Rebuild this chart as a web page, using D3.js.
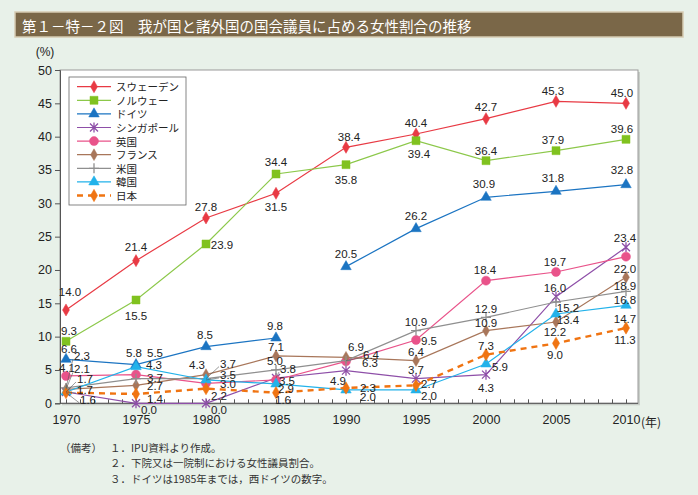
<!DOCTYPE html>
<html><head><meta charset="utf-8">
<script src="https://cdn.jsdelivr.net/npm/d3@7"></script>
<style>
body{margin:0;background:#e8f1e9;}
svg{display:block;}
</style></head><body>
<svg id="chart" width="698" height="495"></svg>
<script>
// ---------------- DATA ----------------
const years = [1970, 1975, 1980, 1985, 1990, 1995, 2000, 2005, 2010];
const seriesNames = ["スウェーデン", "ノルウェー", "ドイツ", "シンガポール", "英国", "フランス", "米国", "韓国", "日本"];
const sweden    = [14.0, 21.4, 27.8, 31.5, 38.4, 40.4, 42.7, 45.3, 45.0];
const norway    = [9.3, 15.5, 23.9, 34.4, 35.8, 39.4, 36.4, 37.9, 39.6];
const germany   = [6.6, 5.8, 8.5, 9.8, 20.5, 26.2, 30.9, 31.8, 32.8];
const singapore = [1.7, 0.0, 0.0, 3.8, 4.9, 3.7, 4.3, 16.0, 23.4];
const uk        = [4.1, 4.3, 3.0, 3.5, 6.3, 9.5, 18.4, 19.7, 22.0];
const france    = [2.1, 2.7, 4.3, 7.1, 6.9, 6.4, 10.9, 12.2, 18.9];
const us        = [2.3, 3.7, 3.7, 5.0, 6.4, 10.9, 12.9, 15.2, 16.8];
const korea     = [1.7, 5.5, 3.5, 2.9, 2.0, 2.0, 5.9, 13.4, 14.7];
const japan     = [1.6, 1.4, 2.2, 1.6, 2.3, 2.7, 7.3, 9.0, 11.3];
const seriesValues = [sweden, norway, germany, singapore, uk, france, us, korea, japan];
const germanyBreakAfter = 1985; // 西ドイツ until 1985
const yTickValues = [0, 5, 10, 15, 20, 25, 30, 35, 40, 45, 50];
const xLabelYears = [1970, 1975, 1980, 1985, 1990, 1995, 2000, 2005, 2010];
const titleText = "第１－特－２図　我が国と諸外国の国会議員に占める女性割合の推移";
const notes = ["１．IPU資料より作成。", "２．下院又は一院制における女性議員割合。", "３．ドイツは1985年までは，西ドイツの数字。"];

// ---------------- STYLE / LAYOUT ----------------
const styles = {
  "スウェーデン": {color: "#e83a44", marker: "diamond", size: 42},
  "ノルウェー":   {color: "#80c21f", line: "#8cc84a", marker: "square", size: 64},
  "ドイツ":       {color: "#1b74c2", marker: "triangle", size: 48},
  "シンガポール": {color: "#8e4fa8", marker: "star"},
  "英国":         {color: "#e9538a", marker: "circle", size: 64},
  "フランス":     {color: "#a8765a", marker: "diamond", size: 40},
  "米国":         {color: "#8f8f8f", marker: "plus"},
  "韓国":         {color: "#22b2ea", marker: "triangle", size: 48},
  "日本":         {color: "#f07412", marker: "diamond", size: 44, dash: "6,5", width: 2.4}
};
// label offsets [dx, dy, leader]
const labelOffsets = {
  "スウェーデン": [[4,-18],[0,-14],[0,-11],[0,14],[3,-10],[0,-11],[0,-12],[-3,-10],[-4,-10]],
  "ノルウェー":   [[3,-10],[0,16],[16,1],[0,-12],[0,15],[3,13],[0,-10],[-3,-11],[-4,-10]],
  "ドイツ":       [[3,-10],[-2,-12],[-1,-12],[-1,-12],[0,-13],[0,-13],[-2,-13],[-3,-13],[-4,-15]],
  "シンガポール": [[19,-2,1],[13,7],[13,7],[12,-9,1],[-8,10],[0,-9],[0,13],[-1,-9],[-1,-9]],
  "英国":         [[1,-8],[18,-10],[22,1],[11,1],[24,2],[13,1],[-1,-11],[-1,-10],[-1,12]],
  "フランス":     [[16,-20,1],[19,1],[-9,-10],[0,-9],[10,-10],[0,-9],[0,-8],[-1,10],[-1,9]],
  "米国":         [[16,-32,1],[19,-1],[22,-15,1],[-1,-9],[25,-6,1],[0,-9],[0,-8],[12,6],[-1,9]],
  "韓国":         [[19,-13,1],[19,-14],[22,-5,1],[10,5],[22,7],[13,6],[14,3],[12,6],[-1,14]],
  "日本":         [[22,7,1],[19,5],[13,7],[7,7],[22,0],[13,-1],[0,-9],[-1,12],[-1,12]]
};

const svg = d3.select("#chart");
const latin = "'Liberation Sans', Arial, sans-serif";
const cjk = "'Noto Sans CJK JP', 'Noto Sans', sans-serif";

// Title bar
svg.append("rect").attr("x", 15).attr("y", 12).attr("width", 668).attr("height", 25)
  .attr("fill", "#7a6748").attr("stroke", "#d6ccb3").attr("stroke-width", 1.5);
svg.append("text").attr("x", 22).attr("y", 25).attr("dominant-baseline", "central")
  .attr("fill", "#fff").style("font-family", cjk).style("font-size", "14.5px").text(titleText);

// Plot frame
const plot = {left: 60, right: 638, top: 70, bottom: 403.3};
svg.append("rect").attr("x", plot.left + 2).attr("y", plot.top + 2)
  .attr("width", plot.right - plot.left).attr("height", plot.bottom - plot.top)
  .attr("fill", "#c8cec8");
svg.append("rect").attr("x", plot.left).attr("y", plot.top)
  .attr("width", plot.right - plot.left).attr("height", plot.bottom - plot.top)
  .attr("fill", "#fff").attr("stroke", "#9a9a9a").attr("stroke-width", 1);

const x = d3.scaleLinear().domain([1970, 2010]).range([66, 626]);
const y = d3.scaleLinear().domain([0, 50]).range([plot.bottom, plot.top]);

// Y axis
const yAxis = svg.append("g").attr("transform", `translate(${plot.left},0)`)
  .call(d3.axisLeft(y).tickValues(yTickValues).tickSize(5).tickPadding(3).tickFormat(d3.format("d")));
yAxis.select(".domain").attr("stroke", "#555");
yAxis.selectAll(".tick line").attr("stroke", "#555");
yAxis.selectAll("text").style("font-family", latin).style("font-size", "12.5px").attr("fill", "#222");
svg.append("text").attr("x", 45).attr("y", 56).attr("text-anchor", "middle")
  .style("font-family", latin).style("font-size", "12px").attr("fill", "#222").text("(%)");

// X axis
const xAxis = svg.append("g").attr("transform", `translate(0,${plot.bottom})`)
  .call(d3.axisBottom(x).tickValues(d3.range(1970, 2011)).tickSize(-4).tickPadding(12)
    .tickFormat(d => xLabelYears.includes(d) ? String(d) : ""));
xAxis.select(".domain").attr("d", `M${plot.left},0H${plot.right}`).attr("stroke", "#555");
xAxis.selectAll(".tick line").attr("stroke", "#555");
xAxis.selectAll("text").style("font-family", latin).style("font-size", "12.5px").attr("fill", "#222");
svg.append("text").attr("x", 641).attr("y", 427).attr("text-anchor", "start")
  .style("font-family", cjk).style("font-size", "12px").attr("fill", "#222").text("(年)");

// Markers
function markerPath(type, size) {
  if (type === "star") return "M-4,-4L4,4M-4,4L4,-4M0,-5L0,5";
  if (type === "plus") return "M-5,0L5,0M0,-5L0,5";
  const t = {diamond: d3.symbolDiamond, square: d3.symbolSquare, triangle: d3.symbolTriangle, circle: d3.symbolCircle}[type];
  return d3.symbol().type(t).size(size)();
}
function drawMarker(g, st, px, py) {
  const stroked = st.marker === "star" || st.marker === "plus";
  g.append("path").attr("d", markerPath(st.marker, st.size))
    .attr("transform", `translate(${px},${py})`)
    .attr("fill", stroked ? "none" : st.color)
    .attr("stroke", st.color).attr("stroke-width", stroked ? 1.3 : 0.5);
}

const lineGen = d3.line().x(d => x(d.year)).y(d => y(d.value));
const linesG = svg.append("g");
const markersG = svg.append("g");
const labelsG = svg.append("g");

seriesNames.forEach((name, si) => {
  const st = styles[name];
  const pts = years.map((yr, i) => ({year: yr, value: seriesValues[si][i]}));
  let segments = [pts];
  if (name === "ドイツ") segments = [pts.filter(p => p.year <= germanyBreakAfter), pts.filter(p => p.year > germanyBreakAfter)];
  segments.forEach(seg => {
    linesG.append("path").attr("d", lineGen(seg)).attr("fill", "none")
      .attr("stroke", st.line || st.color).attr("stroke-width", st.width || 1.2)
      .attr("stroke-dasharray", st.dash || null);
  });
  pts.forEach((p, i) => {
    const px = x(p.year), py = y(p.value);
    drawMarker(markersG, st, px, py);
    const off = labelOffsets[name][i];
    const lx = px + off[0], ly = py + off[1];
    if (off[2]) {
      labelsG.append("line").attr("x1", px).attr("y1", py).attr("x2", lx - 9).attr("y2", ly + 3)
        .attr("stroke", "#555").attr("stroke-width", 0.6);
    }
    labelsG.append("text").attr("x", lx).attr("y", ly).attr("text-anchor", "middle")
      .attr("dominant-baseline", "central").style("font-family", latin).style("font-size", "11.5px")
      .attr("fill", "#222").text(p.value.toFixed(1));
  });
});

// Legend
const lg = svg.append("g");
lg.append("rect").attr("x", 69).attr("y", 77).attr("width", 117).attr("height", 128)
  .attr("fill", "#fff").attr("stroke", "#666").attr("stroke-width", 0.8);
seriesNames.forEach((name, i) => {
  const st = styles[name];
  const cy = 86.7 + i * 13.6;
  lg.append("line").attr("x1", 77).attr("x2", 111).attr("y1", cy).attr("y2", cy)
    .attr("stroke", st.line || st.color).attr("stroke-width", st.width || 1.2)
    .attr("stroke-dasharray", st.dash || null);
  drawMarker(lg, st, 94, cy);
  lg.append("text").attr("x", 116).attr("y", cy).attr("dominant-baseline", "central")
    .style("font-family", cjk).style("font-size", "10.5px").attr("fill", "#222").text(name);
});

// Notes
const ng = svg.append("g").style("font-family", cjk).style("font-size", "10.5px").attr("fill", "#333");
ng.append("text").attr("x", 60).attr("y", 447).attr("dominant-baseline", "central").text("（備考）");
notes.forEach((t, i) => {
  ng.append("text").attr("x", 110).attr("y", 447 + i * 15.5).attr("dominant-baseline", "central").text(t);
});
</script>
</body></html>
